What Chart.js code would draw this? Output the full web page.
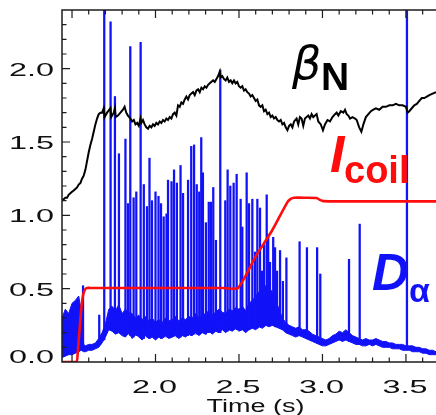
<!DOCTYPE html>
<html>
<head>
<meta charset="utf-8">
<script src="https://cdn.jsdelivr.net/npm/chart.js@4/dist/chart.umd.min.js"></script>
<style>
  html, body { margin: 0; padding: 0; background: #fff; overflow: hidden; }
  canvas { display: block; }
</style>
</head>
<body>
<canvas id="c" width="436" height="415"></canvas>
<script>
// ---- normalized beta (beta_N) trace ----
const betaT = [1.440,1.450,1.460,1.470,1.480,1.490,1.500,1.510,1.520,1.530,1.540,1.550,1.560,1.570,1.580,1.590,1.600,1.610,1.620,1.630,1.640,1.650,1.660,1.670,1.680,1.690,1.695,1.710,1.730,1.735,1.750,1.757,1.762,1.775,1.790,1.805,1.815,1.825,1.835,1.850,1.860,1.870,1.880,1.890,1.900,1.910,1.915,1.925,1.935,1.945,1.955,1.965,1.975,1.985,1.995,2.005,2.015,2.025,2.035,2.045,2.055,2.065,2.075,2.085,2.095,2.105,2.115,2.125,2.135,2.145,2.155,2.165,2.175,2.185,2.195,2.205,2.215,2.225,2.235,2.245,2.255,2.265,2.275,2.285,2.295,2.305,2.315,2.325,2.335,2.345,2.355,2.365,2.375,2.385,2.390,2.400,2.410,2.420,2.430,2.440,2.450,2.460,2.470,2.480,2.490,2.500,2.510,2.520,2.530,2.540,2.550,2.560,2.570,2.580,2.590,2.600,2.610,2.620,2.630,2.640,2.650,2.660,2.670,2.680,2.690,2.700,2.710,2.720,2.730,2.740,2.750,2.760,2.770,2.780,2.790,2.800,2.810,2.820,2.830,2.845,2.855,2.865,2.875,2.885,2.895,2.905,2.915,2.925,2.935,2.945,2.955,2.965,2.975,2.990,3.003,3.015,3.030,3.045,3.060,3.075,3.085,3.095,3.110,3.125,3.135,3.145,3.155,3.165,3.180,3.195,3.205,3.220,3.233,3.245,3.260,3.275,3.290,3.305,3.320,3.340,3.360,3.380,3.400,3.420,3.440,3.460,3.480,3.500,3.510,3.520,3.535,3.550,3.565,3.580,3.595,3.610,3.625,3.640,3.660,3.680];
const betaV = [1.10,1.11,1.12,1.12,1.14,1.15,1.16,1.17,1.18,1.19,1.21,1.22,1.25,1.27,1.31,1.37,1.43,1.48,1.52,1.57,1.62,1.66,1.69,1.70,1.70,1.73,1.67,1.70,1.73,1.67,1.70,1.73,1.67,1.68,1.70,1.72,1.74,1.70,1.68,1.66,1.64,1.65,1.62,1.63,1.61,1.66,1.63,1.65,1.62,1.60,1.59,1.61,1.60,1.62,1.61,1.63,1.62,1.64,1.63,1.65,1.64,1.66,1.65,1.67,1.66,1.69,1.70,1.68,1.75,1.74,1.77,1.76,1.79,1.81,1.79,1.82,1.83,1.84,1.82,1.85,1.86,1.84,1.87,1.86,1.88,1.87,1.89,1.90,1.91,1.92,1.91,1.93,1.95,1.98,1.94,1.95,1.93,1.92,1.94,1.91,1.92,1.90,1.92,1.90,1.91,1.88,1.87,1.88,1.85,1.86,1.84,1.83,1.81,1.82,1.80,1.78,1.79,1.75,1.74,1.75,1.71,1.72,1.69,1.70,1.67,1.68,1.66,1.67,1.65,1.64,1.65,1.62,1.63,1.60,1.58,1.61,1.62,1.60,1.64,1.66,1.62,1.67,1.66,1.61,1.66,1.67,1.68,1.66,1.69,1.67,1.68,1.69,1.64,1.62,1.58,1.62,1.65,1.64,1.67,1.69,1.70,1.68,1.71,1.70,1.72,1.69,1.68,1.66,1.67,1.66,1.65,1.60,1.57,1.62,1.67,1.69,1.71,1.72,1.73,1.72,1.74,1.74,1.75,1.75,1.76,1.75,1.75,1.74,1.70,1.71,1.73,1.75,1.76,1.78,1.80,1.80,1.81,1.82,1.83,1.84];

// ---- coil current (I_coil) ----
const coilT = [1.440,1.526,1.534,1.545,1.556,1.567,1.578,1.590,1.610,1.800,2.000,2.200,2.400,2.494,2.600,2.700,2.790,2.810,2.830,2.900,2.965,2.985,3.005,3.200,3.400,3.680];
const coilV = [0.000,0.000,0.060,0.220,0.370,0.460,0.495,0.505,0.505,0.505,0.505,0.505,0.505,0.505,0.720,0.900,1.090,1.112,1.120,1.120,1.118,1.105,1.097,1.095,1.095,1.095];

// ---- D-alpha baseline: lower and upper edge of the noisy band ----
const dAlphaT = [1.440,1.460,1.480,1.500,1.520,1.540,1.555,1.570,1.580,1.600,1.620,1.640,1.660,1.680,1.700,1.720,1.740,1.760,1.780,1.800,1.820,1.840,1.860,1.880,1.900,1.920,1.940,1.960,1.980,2.000,2.020,2.040,2.060,2.080,2.100,2.120,2.140,2.160,2.180,2.200,2.220,2.240,2.260,2.280,2.300,2.320,2.340,2.360,2.380,2.400,2.420,2.440,2.460,2.480,2.500,2.520,2.540,2.560,2.580,2.600,2.620,2.640,2.660,2.680,2.700,2.720,2.740,2.760,2.780,2.800,2.820,2.840,2.860,2.880,2.900,2.920,2.940,2.960,2.980,3.000,3.020,3.040,3.060,3.080,3.100,3.120,3.140,3.160,3.180,3.200,3.220,3.240,3.260,3.280,3.300,3.320,3.340,3.360,3.380,3.400,3.420,3.440,3.460,3.480,3.500,3.520,3.540,3.560,3.580,3.600,3.620,3.640,3.660,3.680];
const dAlphaLo = [0.03,0.04,0.05,0.05,0.06,0.07,0.08,0.07,0.07,0.08,0.08,0.09,0.10,0.13,0.17,0.22,0.21,0.19,0.20,0.18,0.17,0.20,0.16,0.19,0.17,0.15,0.18,0.16,0.17,0.15,0.17,0.16,0.18,0.16,0.17,0.18,0.16,0.18,0.17,0.19,0.18,0.20,0.18,0.20,0.19,0.21,0.19,0.21,0.20,0.22,0.20,0.22,0.21,0.23,0.21,0.22,0.20,0.22,0.23,0.22,0.24,0.23,0.25,0.24,0.25,0.24,0.23,0.22,0.20,0.19,0.18,0.17,0.18,0.17,0.16,0.15,0.14,0.13,0.12,0.11,0.11,0.12,0.13,0.14,0.15,0.14,0.15,0.14,0.13,0.12,0.12,0.11,0.11,0.12,0.11,0.12,0.11,0.10,0.10,0.10,0.09,0.09,0.09,0.08,0.08,0.08,0.07,0.07,0.07,0.06,0.06,0.05,0.05,0.05];
const dAlphaHi = [0.30,0.36,0.33,0.40,0.42,0.45,0.35,0.12,0.11,0.12,0.12,0.13,0.16,0.20,0.26,0.36,0.38,0.35,0.39,0.33,0.36,0.34,0.33,0.30,0.32,0.29,0.31,0.28,0.30,0.27,0.29,0.27,0.30,0.28,0.29,0.31,0.28,0.30,0.29,0.31,0.30,0.33,0.30,0.32,0.33,0.35,0.32,0.34,0.36,0.34,0.33,0.36,0.35,0.37,0.36,0.38,0.35,0.40,0.42,0.45,0.48,0.50,0.52,0.50,0.48,0.42,0.36,0.30,0.27,0.25,0.24,0.23,0.24,0.22,0.22,0.21,0.19,0.18,0.17,0.16,0.15,0.16,0.18,0.19,0.21,0.20,0.22,0.20,0.18,0.17,0.16,0.15,0.16,0.15,0.15,0.16,0.15,0.14,0.14,0.13,0.13,0.12,0.12,0.12,0.11,0.11,0.11,0.10,0.10,0.09,0.09,0.08,0.08,0.07];

// ---- ELM bursts on D-alpha: [time (s), foot, peak] ----
const elmSpikes = [
  [1.566,0.08,0.52],[1.663,0.12,0.32],[1.693,0.15,2.45],[1.731,0.22,2.32],[1.757,0.20,1.81],
  [1.781,0.20,1.42],[1.820,0.18,1.52],[1.835,0.19,1.08],[1.849,0.18,2.15],[1.869,0.17,1.12],
  [1.885,0.18,1.16],[1.911,0.17,2.18],[1.930,0.16,1.21],[1.949,0.17,1.06],[1.964,0.16,1.39],
  [1.979,0.17,1.10],[2.000,0.16,1.16],[2.018,0.17,1.13],[2.033,0.16,1.08],[2.049,0.17,0.99],
  [2.066,0.17,1.01],[2.075,0.17,1.24],[2.096,0.17,1.23],[2.111,0.18,1.31],[2.128,0.17,1.22],
  [2.150,0.17,1.34],[2.165,0.18,1.15],[2.195,0.18,1.24],[2.214,0.18,1.47],[2.231,0.19,1.48],
  [2.247,0.19,1.21],[2.262,0.19,1.16],[2.274,0.20,1.53],[2.284,0.20,1.29],[2.302,0.19,0.95],
  [2.319,0.20,1.09],[2.332,0.20,1.09],[2.346,0.20,1.19],[2.362,0.21,0.83],[2.388,0.20,1.99],
  [2.418,0.21,1.10],[2.432,0.21,1.31],[2.448,0.22,1.20],[2.468,0.22,1.22],[2.486,0.22,1.28],
  [2.510,0.22,1.11],[2.520,0.22,0.92],[2.546,0.22,1.29],[2.560,0.22,1.08],[2.580,0.23,1.11],
  [2.596,0.23,0.75],[2.610,0.23,1.11],[2.626,0.24,1.05],[2.638,0.24,0.62],[2.650,0.24,0.80],
  [2.666,0.25,1.14],[2.675,0.25,0.87],[2.686,0.25,0.68],[2.705,0.25,0.85],[2.716,0.24,0.78],
  [2.728,0.24,0.62],[2.746,0.23,0.76],[2.763,0.22,0.55],[2.784,0.20,0.71],[2.863,0.18,0.82],
  [2.907,0.16,0.78],[2.968,0.13,0.78],[2.987,0.12,0.60],[3.159,0.14,0.70],[3.223,0.12,0.94],
  [3.506,0.09,2.45]
];

// ---- axis ticks ----
const xTickLabels = ['2.0', '2.5', '3.0', '3.5'];
const yTickLabels = ['0.0', '0.5', '1.0', '1.5', '2.0'];
const xAxisTitle = 'Time (s)';

const BLUE = 'rgb(18,18,248)';
const RED = 'rgb(255,12,12)';

const zip = (t, v) => t.map((x, i) => ({ x, y: v[i] }));

// Frame, inward ticks, labels and curve annotations.
const framePlugin = {
  id: 'frame',
  afterDatasetsDraw(chart) {
    const { ctx, chartArea: a, scales: { x, y } } = chart;
    ctx.save();
    ctx.strokeStyle = '#1c1c1c';
    ctx.lineWidth = 1.5;
    ctx.beginPath();
    ctx.moveTo(a.right + 2, a.top);
    ctx.lineTo(a.left, a.top);
    ctx.lineTo(a.left, a.bottom);
    ctx.lineTo(a.right + 2, a.bottom);
    ctx.stroke();

    ctx.lineWidth = 1.2;
    ctx.beginPath();
    for (let i = 1; i <= 23; i++) {
      const py = y.getPixelForValue(i / 10);
      const len = i % 5 === 0 ? 8 : 4.5;
      ctx.moveTo(a.left, py);
      ctx.lineTo(a.left + len, py);
    }
    for (let i = 15; i <= 36; i++) {
      const px = x.getPixelForValue(i / 10);
      const len = i % 5 === 0 ? 8 : 4.5;
      ctx.moveTo(px, a.bottom);
      ctx.lineTo(px, a.bottom - len);
      ctx.moveTo(px, a.top);
      ctx.lineTo(px, a.top + len);
    }
    ctx.stroke();

    // tick labels and axis title in a wide face
    ctx.fillStyle = '#111';
    ctx.font = '18px "Liberation Sans", Arial, sans-serif';
    const wide = (text, px, py, align, sx) => {
      ctx.save();
      ctx.translate(px, py);
      ctx.scale(sx, 1);
      ctx.textAlign = align;
      ctx.textBaseline = 'alphabetic';
      ctx.fillText(text, 0, 0);
      ctx.restore();
    };
    yTickLabels.forEach(lbl => {
      const py = y.getPixelForValue(parseFloat(lbl));
      wide(lbl, a.left - 8, Math.min(py + 7, a.bottom + 0.5), 'right', 1.8);
    });
    xTickLabels.forEach(lbl => {
      const px = x.getPixelForValue(parseFloat(lbl));
      wide(lbl, px - 1, a.bottom + 31, 'center', 1.8);
    });
    wide(xAxisTitle, 255.5, a.bottom + 50, 'center', 1.5);

    // curve annotations
    ctx.textAlign = 'left';
    ctx.textBaseline = 'alphabetic';
    ctx.fillStyle = '#000';
    ctx.font = 'italic 46px "DejaVu Sans", sans-serif';
    ctx.fillText('\u03B2', 292, 79);
    ctx.font = 'bold 39px "Liberation Sans", Arial, sans-serif';
    ctx.fillText('N', 321, 90);

    ctx.fillStyle = RED;
    ctx.font = 'italic bold 52px "Liberation Sans", Arial, sans-serif';
    ctx.fillText('I', 330, 172);
    ctx.font = 'bold 38px "Liberation Sans", Arial, sans-serif';
    ctx.fillText('coil', 344, 183);

    ctx.fillStyle = BLUE;
    ctx.font = 'italic bold 51px "Liberation Sans", Arial, sans-serif';
    ctx.fillText('D', 372, 290);
    ctx.font = 'bold 34px "Liberation Sans", Arial, sans-serif';
    ctx.fillText('\u03B1', 409, 302);
    ctx.restore();
  }
};

new Chart(document.getElementById('c'), {
  type: 'line',
  data: {
    datasets: [
      { // 0: D-alpha lower edge
        data: zip(dAlphaT, dAlphaLo),
        borderColor: BLUE, borderWidth: 1, pointRadius: 0, fill: false, order: 4, tension: 0
      },
      { // 1: D-alpha upper edge, filled down to the lower edge
        data: zip(dAlphaT, dAlphaHi),
        borderColor: BLUE, borderWidth: 1, pointRadius: 0, fill: '-1', backgroundColor: BLUE, order: 3, tension: 0
      },
      { // 2: ELM bursts
        type: 'bar',
        data: elmSpikes.map(s => ({ x: s[0], y: [s[1], s[2]] })),
        backgroundColor: BLUE, borderWidth: 0, barThickness: 1.6, order: 2
      },
      { // 3: beta_N
        data: zip(betaT, betaV),
        borderColor: '#000', borderWidth: 2, pointRadius: 0, fill: false, order: 1, tension: 0
      },
      { // 4: I_coil
        data: zip(coilT, coilV),
        borderColor: RED, borderWidth: 2.6, pointRadius: 0, fill: false, order: 0, tension: 0.2
      }
    ]
  },
  options: {
    responsive: false,
    animation: false,
    events: [],
    layout: { padding: { left: 62, top: 10, right: 0, bottom: 53 } },
    scales: {
      x: { type: 'linear', min: 1.44, max: 3.68, display: false, offset: false },
      y: { type: 'linear', min: 0, max: 2.4, display: false }
    },
    plugins: { legend: { display: false }, tooltip: { enabled: false } }
  },
  plugins: [framePlugin]
});
</script>
</body>
</html>
